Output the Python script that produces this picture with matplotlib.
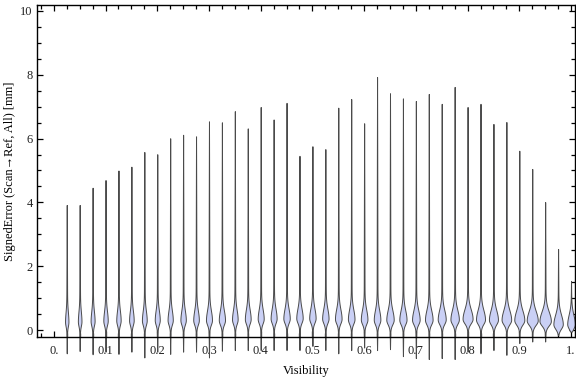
import numpy as np
import matplotlib
matplotlib.use("Agg")
import matplotlib.pyplot as plt
from matplotlib.ticker import MultipleLocator

plt.rcParams['font.family'] = ['Liberation Serif', 'DejaVu Serif']

# visibility bins (violin positions)
visibility = [0.025 * k for k in range(1, 41)]

# maximum signed error per bin (top of each violin) [mm]
err_max = [3.92, 3.92, 4.46, 4.70, 5.00, 5.12, 5.58, 5.51, 6.01, 6.12,
           6.07, 6.54, 6.51, 6.86, 6.32, 6.99, 6.60, 7.12, 5.46, 5.76,
           5.67, 6.97, 7.24, 6.48, 7.93, 7.42, 7.26, 7.18, 7.40, 7.09,
           7.62, 6.99, 7.09, 6.46, 6.52, 5.62, 5.05, 4.01, 2.54, 1.54]

# minimum signed error per bin (bottom of each violin) [mm]
err_min = [-0.73, -0.66, -0.76, -0.68, -0.75, -0.68, -0.86, -0.68, -0.75, -0.68,
           -0.68, -0.86, -0.65, -0.63, -0.63, -0.63, -0.63, -0.63, -0.63, -0.50,
           -0.63, -0.73, -0.63, -0.55, -0.63, -0.60, -0.82, -0.88, -0.91, -0.88,
           -0.91, -0.68, -0.73, -0.63, -0.78, -0.41, -0.36, -0.36, -0.16, -0.05]

# most likely error per bin (centre of the bulb) [mm]
err_mode = [0.26, 0.27, 0.28, 0.29, 0.30, 0.30, 0.30, 0.31, 0.31, 0.31,
            0.31, 0.31, 0.31, 0.33, 0.34, 0.35, 0.36, 0.36, 0.37, 0.37,
            0.36, 0.35, 0.34, 0.33, 0.32, 0.32, 0.32, 0.32, 0.32, 0.33,
            0.33, 0.35, 0.33, 0.32, 0.32, 0.31, 0.30, 0.28, 0.18, 0.18]

# relative peak density per bin (bulb width)
peak_density = [1.7, 1.8, 2.0, 2.2, 2.2, 2.3, 2.4, 2.5, 2.6, 2.7,
                2.8, 3.0, 3.1, 2.8, 2.9, 3.0, 3.0, 3.2, 3.2, 3.2,
                3.2, 3.3, 3.3, 3.3, 3.3, 3.7, 3.6, 3.8, 3.8, 4.0,
                4.2, 5.0, 4.5, 4.5, 4.8, 5.0, 5.5, 5.7, 4.7, 3.8]

xtick_vals = [0.1 * i for i in range(11)]
xtick_labels = ["0.", "0.1", "0.2", "0.3", "0.4", "0.5", "0.6", "0.7", "0.8", "0.9", "1."]
ytick_vals = [0, 2, 4, 6, 8, 10]


def violin(ax, x, lo, hi, mode, peak, scale=1 / 517.0):
    y = np.linspace(lo, hi, 800)
    up = np.exp(-0.5 * ((y - mode) / 0.30) ** 2)
    down = np.exp(-0.5 * ((y - mode) / 0.14) ** 2)
    bulb = np.where(y > mode, up, down) * (peak - 0.45)
    taper = np.where(y > mode,
                     np.clip((hi - y) / (hi - mode), 0, 1) ** 0.8,
                     np.clip((y - lo) / (mode - lo), 0, 1) ** 0.8)
    half = (bulb + 0.45 * taper) * scale
    ax.fill_betweenx(y, x - half, x + half, facecolor='#cad0f5',
                     edgecolor='#4a4a4a', linewidth=0.7, clip_on=False, zorder=2)


fig = plt.figure(figsize=(5.76, 3.77), dpi=100)
ax = fig.add_axes([37 / 576, 40 / 377, 538 / 576, 332.3 / 377])

for x, lo, hi, m, p in zip(visibility, err_min, err_max, err_mode, peak_density):
    violin(ax, x, lo, hi, m, p)

ax.set_xlim(-0.0325, 1.0077)
ax.set_ylim(-0.219, 10.197)

ax.set_xticks(xtick_vals)
ax.set_xticklabels(xtick_labels)
ax.xaxis.set_minor_locator(MultipleLocator(0.025))
ax.set_yticks(ytick_vals)
ax.yaxis.set_minor_locator(MultipleLocator(0.5))

ax.tick_params(which='both', direction='in', top=True, right=True,
               width=0.9, colors='black', labelcolor='#222222', labelsize=9)
ax.tick_params(which='major', length=4.5)
ax.tick_params(which='minor', length=3)
ax.tick_params(axis='x', which='major', pad=5.5)
ax.tick_params(axis='y', which='major', pad=3)
for s in ax.spines.values():
    s.set_linewidth(1.0)
    s.set_zorder(3)

ax.set_xlabel("Visibility", fontsize=9, labelpad=6)
ax.set_ylabel("SignedError (Scan\u2192Ref, All) [mm]", fontsize=9, labelpad=3)

fig.savefig("out.png", dpi=100)
